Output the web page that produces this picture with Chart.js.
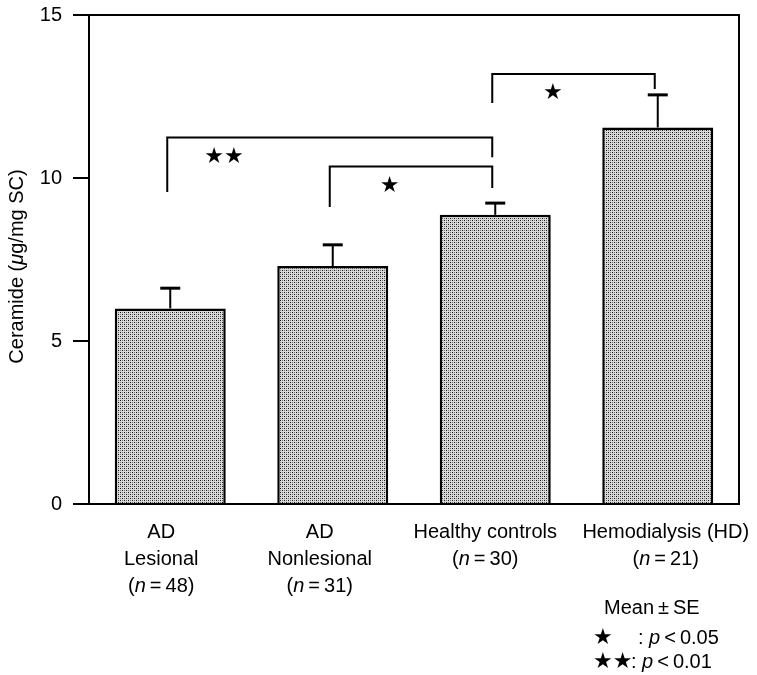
<!DOCTYPE html>
<html>
<head>
<meta charset="utf-8">
<script src="https://cdn.jsdelivr.net/npm/chart.js@4.4.1/dist/chart.umd.min.js"></script>
<style>
  html, body { margin: 0; padding: 0; background: #ffffff; }
  #wrap { width: 757px; height: 675px; }
</style>
</head>
<body>
<div id="wrap"><canvas id="chart" width="757" height="675"></canvas></div>
<script>
// ---- data ----
const groupNames = [['AD', 'Lesional'], ['AD', 'Nonlesional'], ['Healthy controls'], ['Hemodialysis (HD)']];
const groupN = [48, 31, 30, 21];
const meanValues = [6.0, 7.3, 8.87, 11.55];
const seValues = [0.62, 0.65, 0.36, 1.0];
const yTicks = [0, 5, 10, 15];
// significance brackets: group indices, bracket height, leg ends, mark and where the mark sits (category units / value)
const comparisons = [
  { from: 0, to: 2, top: 11.24, fromEnd: 9.57, toEnd: 10.64, mark: '★★', markAt: 0.33, markValue: 10.64 },
  { from: 1, to: 2, top: 10.35, fromEnd: 9.11, toEnd: 9.69, mark: '★', markAt: 1.35, markValue: 9.75 },
  { from: 2, to: 3, top: 13.19, fromEnd: 12.3, toEnd: 12.73, mark: '★', markAt: 2.355, markValue: 12.6 }
];

// ---- styling ----
const FONT = '"Liberation Sans", Arial, Helvetica, sans-serif';
const STAR_FONT = '"DejaVu Sans", sans-serif';
const STAR_SIZE = 22;
const TEXT_SIZE = 20;
const labelShift = [-9, -13, -10, 8];

function makeStipple() {
  const t = document.createElement('canvas');
  t.width = 4; t.height = 4;
  const c = t.getContext('2d');
  c.fillStyle = '#dadada';
  c.fillRect(0, 0, 4, 4);
  c.fillStyle = '#111111';
  c.fillRect(0, 0, 1, 1);
  c.fillRect(2, 2, 1, 1);
  c.fillStyle = '#777777';
  c.fillRect(2, 0, 1, 1);
  c.fillRect(0, 2, 1, 1);
  const ctx = document.getElementById('chart').getContext('2d');
  return ctx.createPattern(t, 'repeat');
}

function drawRuns(ctx, runs, x, y, size, align) {
  let w = 0;
  runs.forEach(r => {
    ctx.font = (r.i ? 'italic ' : '') + size + 'px ' + FONT;
    w += ctx.measureText(r.t).width;
  });
  let cx = align === 'center' ? x - w / 2 : (align === 'right' ? x - w : x);
  ctx.textAlign = 'left';
  runs.forEach(r => {
    ctx.font = (r.i ? 'italic ' : '') + size + 'px ' + FONT;
    ctx.fillText(r.t, cx, y);
    cx += ctx.measureText(r.t).width;
  });
}

function drawStars(ctx, text, x, y, align) {
  ctx.font = STAR_SIZE + 'px ' + STAR_FONT;
  ctx.textAlign = align;
  ctx.textBaseline = 'middle';
  ctx.fillText(text, x, y);
}

const annotations = {
  id: 'annotations',
  afterDatasetsDraw(chart) {
    const ctx = chart.ctx;
    const xs = chart.scales.x, ys = chart.scales.y;
    const area = chart.chartArea;
    const x0 = xs.getPixelForValue(0), step = xs.getPixelForValue(1) - x0;
    const catX = v => x0 + v * step;
    ctx.save();
    ctx.strokeStyle = '#000';
    ctx.fillStyle = '#000';

    // frame around the plot
    ctx.lineWidth = 2;
    ctx.strokeRect(area.left, area.top, area.right - area.left, area.bottom - area.top);

    // upper error bars (mean + SE)
    meanValues.forEach((m, i) => {
      const x = xs.getPixelForValue(i);
      const yTop = ys.getPixelForValue(m);
      const yCap = ys.getPixelForValue(m + seValues[i]);
      ctx.lineWidth = 2;
      ctx.beginPath();
      ctx.moveTo(x, yTop);
      ctx.lineTo(x, yCap);
      ctx.stroke();
      ctx.lineWidth = 3;
      ctx.beginPath();
      ctx.moveTo(x - 10, yCap);
      ctx.lineTo(x + 10, yCap);
      ctx.stroke();
    });

    // significance brackets
    comparisons.forEach(c => {
      const xa = xs.getPixelForValue(c.from) - 3;
      const xb = xs.getPixelForValue(c.to) - 3;
      const yt = ys.getPixelForValue(c.top);
      ctx.lineWidth = 2;
      ctx.beginPath();
      ctx.moveTo(xa, ys.getPixelForValue(c.fromEnd));
      ctx.lineTo(xa, yt);
      ctx.lineTo(xb, yt);
      ctx.lineTo(xb, ys.getPixelForValue(c.toEnd));
      ctx.stroke();
      drawStars(ctx, c.mark, catX(c.markAt), ys.getPixelForValue(c.markValue), 'center');
    });

    // group labels under the axis
    ctx.textBaseline = 'middle';
    groupNames.forEach((lines, i) => {
      const x = xs.getPixelForValue(i) + labelShift[i];
      let y = area.bottom + 28;
      lines.forEach(line => {
        drawRuns(ctx, [{ t: line }], x, y, TEXT_SIZE, 'center');
        y += 27;
      });
      drawRuns(ctx, [{ t: '(' }, { t: 'n', i: true }, { t: '\u2009=\u2009' + groupN[i] + ')' }], x, y, TEXT_SIZE, 'center');
    });

    // y axis title
    ctx.save();
    ctx.translate(17, (area.top + area.bottom) / 2 + 7);
    ctx.rotate(-Math.PI / 2);
    ctx.textBaseline = 'middle';
    drawRuns(ctx, [{ t: 'Ceramide (' }, { t: 'μ', i: true }, { t: 'g/mg SC)' }], 0, 0, TEXT_SIZE, 'center');
    ctx.restore();

    // key
    ctx.textBaseline = 'middle';
    drawRuns(ctx, [{ t: 'Mean\u2009±\u2009SE' }], 604, 608, TEXT_SIZE, 'left');
    drawStars(ctx, '★', 593, 638, 'left');
    ctx.textBaseline = 'middle';
    drawRuns(ctx, [{ t: ': ' }, { t: 'p', i: true }, { t: '\u2009<\u20090.05' }], 638, 638, TEXT_SIZE, 'left');
    drawStars(ctx, '★★', 593, 662, 'left');
    ctx.textBaseline = 'middle';
    drawRuns(ctx, [{ t: ': ' }, { t: 'p', i: true }, { t: '\u2009<\u20090.01' }], 631, 662, TEXT_SIZE, 'left');

    ctx.restore();
  }
};

new Chart(document.getElementById('chart'), {
  type: 'bar',
  data: {
    labels: groupNames.map(g => g.join(' ')),
    datasets: [{
      data: meanValues,
      backgroundColor: makeStipple(),
      borderColor: '#000',
      borderWidth: 2.5,
      borderSkipped: 'bottom',
      barPercentage: 0.683,
      categoryPercentage: 1.0
    }]
  },
  options: {
    responsive: false,
    devicePixelRatio: 1,
    animation: false,
    layout: { padding: { top: 15, right: 18, left: 0, bottom: 0 } },
    plugins: { legend: { display: false }, tooltip: { enabled: false } },
    scales: {
      x: {
        grid: { display: false },
        border: { display: true, color: '#000', width: 2 },
        ticks: { display: false },
        afterFit: s => { s.height = 171; s.paddingLeft = 0; s.paddingRight = 0; }
      },
      y: {
        min: 0, max: 15,
        afterBuildTicks: s => { s.ticks = yTicks.map(v => ({ value: v })); },
        grid: { drawOnChartArea: false, drawTicks: true, tickLength: 16, color: '#000', lineWidth: 2 },
        border: { display: true, color: '#000', width: 2 },
        ticks: { color: '#000', padding: 11, font: { family: FONT, size: TEXT_SIZE } },
        afterFit: s => { s.width = 89; s.paddingTop = 0; s.paddingBottom = 0; }
      }
    }
  },
  plugins: [annotations]
});
</script>
</body>
</html>
